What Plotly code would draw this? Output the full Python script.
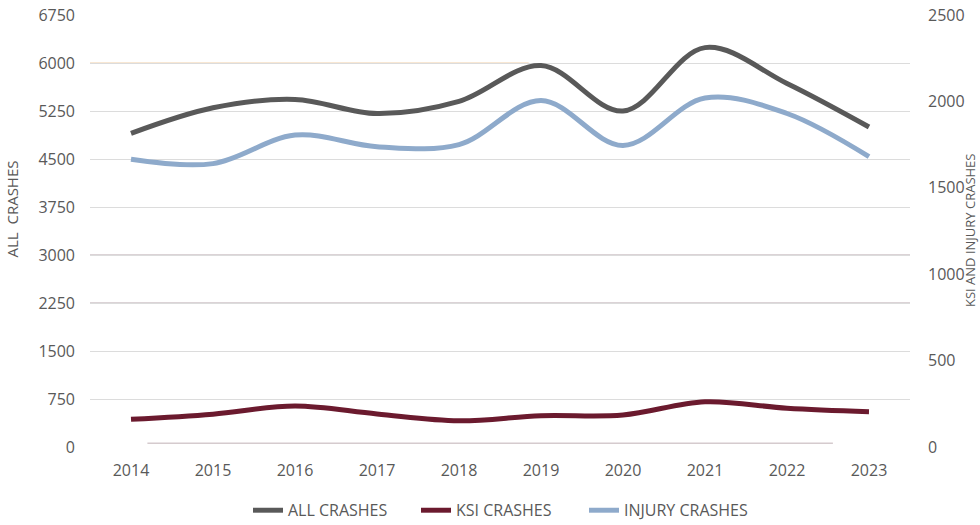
import plotly.graph_objects as go

years = ["2014", "2015", "2016", "2017", "2018", "2019", "2020", "2021", "2022", "2023"]
all_crashes = [4900, 5300, 5430, 5210, 5400, 5960, 5250, 6240, 5680, 5000]
ksi_crashes = [160, 190, 237, 191, 152, 181, 185, 262, 224, 204]
injury_crashes = [1665, 1640, 1805, 1738, 1750, 2005, 1745, 2020, 1930, 1680]

left_ticks = [0, 750, 1500, 2250, 3000, 3750, 4500, 5250, 6000, 6750]
right_ticks = [0, 500, 1000, 1500, 2000, 2500]

FONT = "Open Sans, Noto Sans, sans-serif"
TXT = "#595959"

fig = go.Figure()
fig.add_trace(go.Scatter(x=years, y=all_crashes, name="ALL CRASHES", mode="lines",
                         line=dict(color="#595959", width=5, shape="spline", smoothing=1.0),
                         yaxis="y"))
fig.add_trace(go.Scatter(x=years, y=ksi_crashes, name="KSI CRASHES", mode="lines",
                         line=dict(color="#6b1a2e", width=5, shape="spline", smoothing=1.0),
                         yaxis="y2"))
fig.add_trace(go.Scatter(x=years, y=injury_crashes, name="INJURY CRASHES", mode="lines",
                         line=dict(color="#8eaacb", width=5, shape="spline", smoothing=1.0),
                         yaxis="y2"))

# subtle coloured gridline artefacts from the original
shapes = [
    dict(type="line", xref="paper", yref="y", x0=0, x1=0.535, y0=6000, y1=6000,
         line=dict(color="#f2cfa8", width=1.2), layer="below"),
    dict(type="line", xref="paper", yref="y", x0=0, x1=1, y0=3000, y1=3000,
         line=dict(color="#b8a8ad", width=1.2), layer="below"),
    dict(type="line", xref="paper", yref="y", x0=0, x1=1, y0=2250, y1=2250,
         line=dict(color="#b8a8ad", width=1.2), layer="below"),
    dict(type="line", xref="paper", yref="y", x0=0.07, x1=0.906, y0=60, y1=60,
         line=dict(color="#c0b0b5", width=1), layer="below"),
]

fig.update_layout(
    width=980, height=525,
    margin=dict(l=90, r=70, t=15, b=78, autoexpand=False),
    paper_bgcolor="white", plot_bgcolor="white",
    font=dict(family=FONT, size=16, color=TXT),
    showlegend=True,
    legend=dict(orientation="h", x=0.5, xanchor="center", xref="paper",
                y=0.028, yanchor="middle", yref="container",
                font=dict(family=FONT, size=16, color=TXT),
                entrywidth=123, entrywidthmode="pixels"),
    xaxis=dict(type="category", range=[-0.5, 9.5], showgrid=False, zeroline=False,
               showline=False, ticks="", tickfont=dict(size=16, color=TXT),
               ticklabelstandoff=12),
    yaxis=dict(range=[0, 6750], tickvals=left_ticks, ticktext=[str(v) for v in left_ticks],
               showgrid=True, gridcolor="#dcdcdc", gridwidth=1.2, zeroline=False,
               showline=False, ticks="", tickfont=dict(size=16, color=TXT), ticklabelstandoff=14),
    yaxis2=dict(range=[0, 2500], tickvals=right_ticks, overlaying="y", side="right",
                showgrid=False, zeroline=False, showline=False, ticks="",
                tickfont=dict(size=16, color=TXT), ticklabelstandoff=17),
    shapes=shapes,
    annotations=[
        dict(text="ALL  CRASHES", textangle=-90, xref="paper", yref="paper",
             x=-0.095, y=0.55, xanchor="center", yanchor="middle", showarrow=False,
             font=dict(family=FONT, size=15, color=TXT)),
        dict(text="KSI AND INJURY CRASHES", textangle=-90, xref="paper", yref="paper",
             x=1.0732, y=0.50, xanchor="center", yanchor="middle", showarrow=False,
             font=dict(family=FONT, size=13, color=TXT)),
    ],
)

fig.write_html("out.html", config={"displayModeBar": False},
               post_script="document.body.style.margin='0';document.body.style.padding='0';")
